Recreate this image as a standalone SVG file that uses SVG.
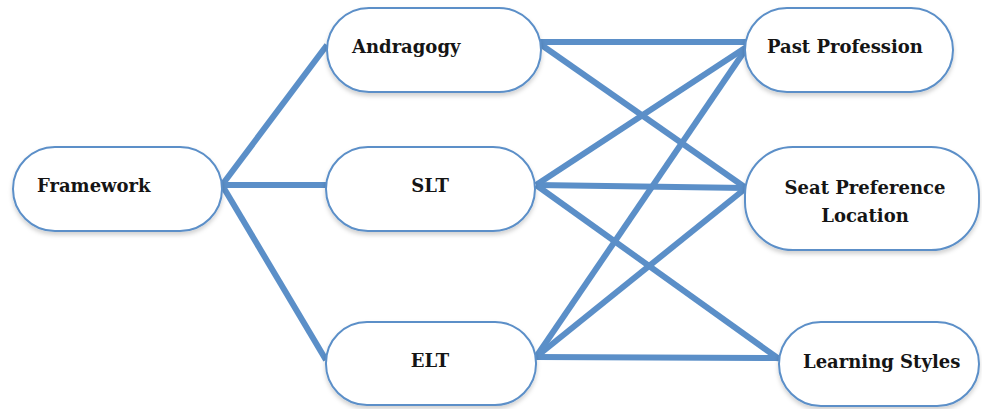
<svg xmlns="http://www.w3.org/2000/svg" width="982" height="409" viewBox="0 0 982 409">
<style>
.node rect{fill:#ffffff;stroke:#5b8fc8;stroke-width:2;filter:url(#sh)}
.node text{font-family:"DejaVu Serif","Liberation Serif",serif;font-weight:bold;font-size:18px;fill:#151515}
#connectors line{stroke:#5b8fc8;stroke-width:6;stroke-linecap:butt}
</style>
<defs>
<filter id="sh" x="-10%" y="-20%" width="120%" height="150%">
<feDropShadow dx="0" dy="3" stdDeviation="2" flood-color="#000" flood-opacity="0.18"/>
</filter>
</defs>
<rect width="982" height="409" fill="#ffffff"/>
<g id="connectors">
<line x1="222" y1="185" x2="327" y2="45"/>
<line x1="222" y1="185" x2="326" y2="185"/>
<line x1="222" y1="185" x2="326" y2="360"/>
<line x1="540" y1="42" x2="746" y2="42"/>
<line x1="540" y1="44" x2="746" y2="188"/>
<line x1="536" y1="185" x2="748" y2="46"/>
<line x1="536" y1="185" x2="746" y2="188"/>
<line x1="536" y1="185" x2="779" y2="359"/>
<line x1="536" y1="357" x2="748" y2="46"/>
<line x1="536" y1="357" x2="746" y2="188"/>
<line x1="536" y1="357" x2="779" y2="358"/>
</g>
<g id="framework" class="node">
<rect x="13" y="147" width="209" height="84" rx="42"/>
<text x="37" y="192">Framework</text>
</g>
<g id="andragogy" class="node">
<rect x="327" y="8" width="214" height="84" rx="42"/>
<text x="352" y="53">Andragogy</text>
</g>
<g id="slt" class="node">
<rect x="326" y="147" width="209" height="84" rx="42"/>
<text x="430" y="192" text-anchor="middle">SLT</text>
</g>
<g id="elt" class="node">
<rect x="326" y="322" width="210" height="83" rx="41"/>
<text x="430" y="367" text-anchor="middle">ELT</text>
</g>
<g id="past-profession" class="node">
<rect x="745" y="8" width="208" height="84" rx="42"/>
<text x="767" y="53">Past Profession</text>
</g>
<g id="seat-preference" class="node">
<rect x="745" y="147" width="234" height="103" rx="48"/>
<text x="865" y="194" text-anchor="middle">Seat Preference</text>
<text x="865" y="222" text-anchor="middle">Location</text>
</g>
<g id="learning-styles" class="node">
<rect x="779" y="322" width="200" height="84" rx="42"/>
<text x="803" y="368">Learning Styles</text>
</g>
</svg>
